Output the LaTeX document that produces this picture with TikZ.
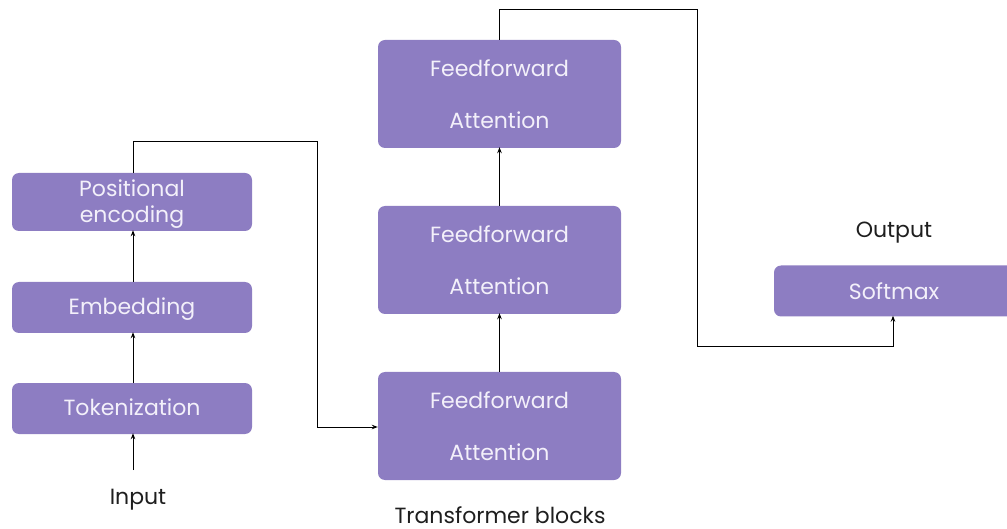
\documentclass[tikz,border=0pt]{standalone}
\usepackage{fontspec}
\setmainfont{Poppins}
\usetikzlibrary{arrows.meta}
\definecolor{boxpurple}{HTML}{8D7DC2}
\definecolor{boxtext}{HTML}{F3F0FA}
\definecolor{labeltext}{HTML}{1E1E1E}
\tikzset{
  pbox/.style={fill=boxpurple, draw=none, rounded corners=7pt},
  intext/.style={text=boxtext, font=\fontsize{22}{26}\selectfont, inner sep=0pt, text height=15.4pt, text depth=0pt},
  outtext/.style={text=labeltext, font=\fontsize{22}{26}\selectfont, inner sep=0pt, text height=15.4pt, text depth=0pt},
  conn/.style={draw=black, line width=1pt, -{Stealth[length=6pt,width=4.5pt]}}
}
\begin{document}
\begin{tikzpicture}[x=1pt,y=-1pt]
\useasboundingbox (0,0) rectangle (1007,529);
\begin{scope}
\clip (0,0) rectangle (1007,529);
% left column
\node[pbox, minimum width=240pt, minimum height=58pt] (pos) at (132,202) {};
\node[intext] at (132,189) {Positional};
\node[intext] at (132,215) {encoding};
\node[pbox, minimum width=240pt, minimum height=51pt] (emb) at (132,307.5) {};
\node[intext] at (132,307) {Embedding};
\node[pbox, minimum width=240pt, minimum height=51pt] (tok) at (132,408.5) {};
\node[intext] at (132,408) {Tokenization};
\node[outtext] (inp) at (138,497) {Input};
\coordinate (inpTop) at (133,470);
% transformer blocks
\node[pbox, minimum width=243pt, minimum height=108pt] (b1) at (499.5,426) {};
\node[intext] at (499.5,401) {Feedforward};
\node[intext] at (499.5,453) {Attention};
\node[pbox, minimum width=243pt, minimum height=108pt] (b2) at (499.5,260) {};
\node[intext] at (499.5,235) {Feedforward};
\node[intext] at (499.5,287) {Attention};
\node[pbox, minimum width=243pt, minimum height=108pt] (b3) at (499.5,94) {};
\node[intext] at (499.5,69) {Feedforward};
\node[intext] at (499.5,121) {Attention};
\node[outtext] (tb) at (500,515.5) {Transformer blocks};
% softmax
\node[pbox, minimum width=240pt, minimum height=51pt] (soft) at (894,291) {};
\node[intext] at (894,292) {Softmax};
\node[outtext] (out) at (894,230) {Output};
% connectors
\draw[conn] (inpTop) -- ([yshift=1pt]tok.south -| inpTop);
\draw[conn] (tok.north -| 133,0) -- ([yshift=1pt]emb.south -| 133,0);
\draw[conn] (emb.north -| 133,0) -- ([yshift=1pt]pos.south -| 133,0);
\draw[conn] (pos.north -| 133,0) -- (133,142) -- (317,142) -- (317,427) -- (b1.west |- 0,427);
\draw[conn] (b1.north) -- ([yshift=1pt]b2.south);
\draw[conn] (b2.north) -- ([yshift=1pt]b3.south);
\draw[conn] (b3.north) -- (499.5,10) -- (697,10) -- (697,347) -- (893,347) -- ([yshift=1pt]soft.south -| 893,0);
\end{scope}
\end{tikzpicture}
\end{document}
